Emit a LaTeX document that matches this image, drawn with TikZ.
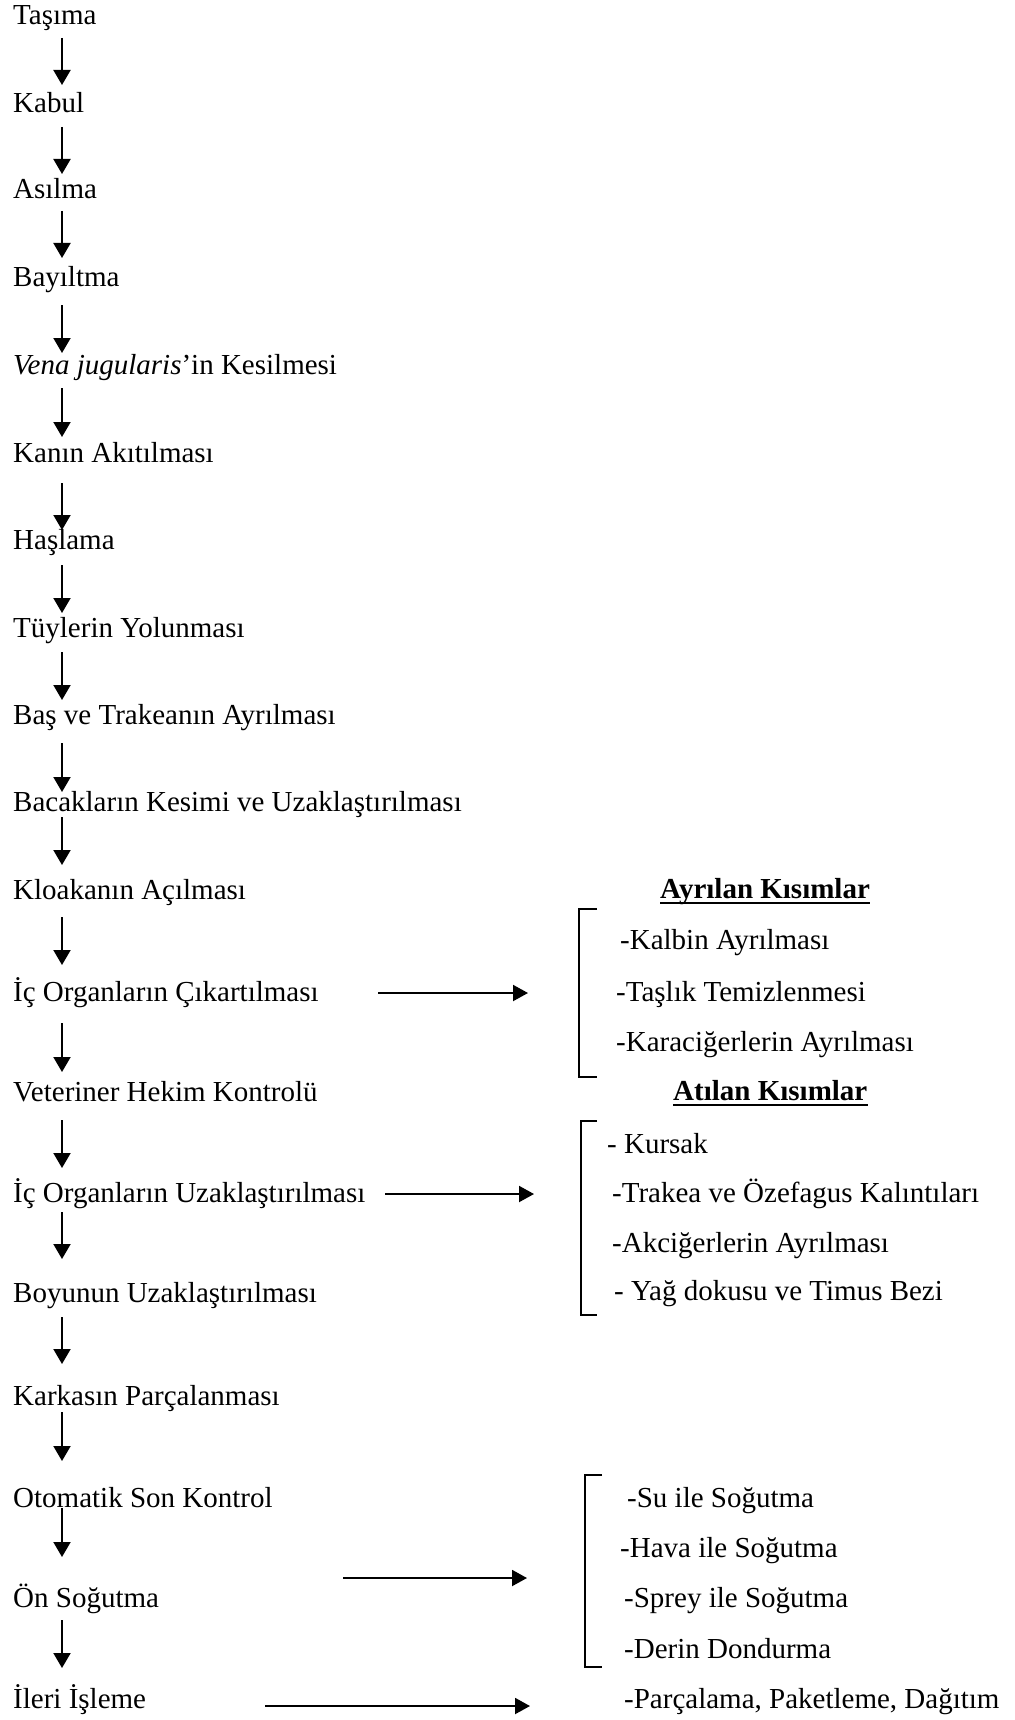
\documentclass[tikz,border=0pt]{standalone}
\usepackage{fontspec}
\setmainfont{Liberation Serif}
\usetikzlibrary{arrows.meta,calc}

\begin{document}
\begin{tikzpicture}[x=1pt, y=-1pt,
  font=\fontsize{29}{35}\selectfont,
  stage/.style={anchor=base west, inner sep=0pt},
  down/.style={line width=2pt, -{Triangle[width=17pt,length=15pt]}},
  side/.style={line width=2pt, -{Triangle[width=16pt,length=15pt]}},
  bracket/.style={line width=2.2pt}]
  \useasboundingbox (0, 0) rectangle (1014, 1720);
  \fill [white] (0, 0) rectangle (1014, 1720);

  % main line
  \node[stage] (tasima) at (13, 25) {Taşıma};
  \node[stage] (kabul) at (13, 113) {Kabul};
  \node[stage] (asilma) at (13, 199) {Asılma};
  \node[stage] (bayiltma) at (13, 287) {Bayıltma};
  \node[stage] (vena) at (13, 374) {\textit{Vena jugularis}’in Kesilmesi};
  \node[stage] (kan) at (13, 462) {Kanın Akıtılması};
  \node[stage] (haslama) at (13, 549) {Haşlama};
  \node[stage] (tuy) at (13, 637) {Tüylerin Yolunması};
  \node[stage] (bas) at (13, 724) {Baş ve Trakeanın Ayrılması};
  \node[stage] (bacak) at (13, 811) {Bacakların Kesimi ve Uzaklaştırılması};
  \node[stage] (kloaka) at (13, 899) {Kloakanın Açılması};
  \node[stage] (iccikar) at (13, 1001) {İç Organların Çıkartılması};
  \node[stage] (vet) at (13, 1101) {Veteriner Hekim Kontrolü};
  \node[stage] (icuzak) at (13, 1202) {İç Organların Uzaklaştırılması};
  \node[stage] (boyun) at (13, 1302) {Boyunun Uzaklaştırılması};
  \node[stage] (karkas) at (13, 1405) {Karkasın Parçalanması};
  \node[stage] (otomatik) at (13, 1507) {Otomatik Son Kontrol};
  \node[stage] (onsog) at (13, 1607) {Ön Soğutma};
  \node[stage] (ileri) at (13, 1708) {İleri İşleme};

  \draw[down] ($(tasima.base west)+(49,13)$) -- ($(kabul.base west)+(49,-28)$);
  \draw[down] ($(kabul.base west)+(49,14)$) -- ($(asilma.base west)+(49,-25)$);
  \draw[down] ($(asilma.base west)+(49,12)$) -- ($(bayiltma.base west)+(49,-29)$);
  \draw[down] ($(bayiltma.base west)+(49,18)$) -- ($(vena.base west)+(49,-21)$);
  \draw[down] ($(vena.base west)+(49,14)$) -- ($(kan.base west)+(49,-25)$);
  \draw[down] ($(kan.base west)+(49,21)$) -- ($(haslama.base west)+(49,-19)$);
  \draw[down] ($(haslama.base west)+(49,16)$) -- ($(tuy.base west)+(49,-24)$);
  \draw[down] ($(tuy.base west)+(49,15)$) -- ($(bas.base west)+(49,-24)$);
  \draw[down] ($(bas.base west)+(49,19)$) -- ($(bacak.base west)+(49,-19)$);
  \draw[down] ($(bacak.base west)+(49,6)$) -- ($(kloaka.base west)+(49,-34)$);
  \draw[down] ($(kloaka.base west)+(49,18)$) -- ($(iccikar.base west)+(49,-36)$);
  \draw[down] ($(iccikar.base west)+(49,22)$) -- ($(vet.base west)+(49,-29)$);
  \draw[down] ($(vet.base west)+(49,19)$) -- ($(icuzak.base west)+(49,-34)$);
  \draw[down] ($(icuzak.base west)+(49,10)$) -- ($(boyun.base west)+(49,-43)$);
  \draw[down] ($(boyun.base west)+(49,15)$) -- ($(karkas.base west)+(49,-41)$);
  \draw[down] ($(karkas.base west)+(49,7)$) -- ($(otomatik.base west)+(49,-46)$);
  \draw[down] ($(otomatik.base west)+(49,1)$) -- ($(onsog.base west)+(49,-50)$);
  \draw[down] ($(onsog.base west)+(49,13)$) -- ($(ileri.base west)+(49,-40)$);

  % separated parts
  \node[stage] (ayrilan) at (660, 898) {\bfseries Ayrılan Kısımlar};
  \draw [line width=2.5pt] ($(ayrilan.base west)+(0,5)$) -- ($(ayrilan.base east)+(0,5)$);
  \draw [bracket] (597, 909) -- (579, 909) -- (579, 1077) -- (597, 1077);
  \node[stage] (kalbin) at (620, 949) {-Kalbin Ayrılması};
  \node[stage] (taslik) at (616, 1001) {-Taşlık Temizlenmesi};
  \node[stage] (karaciger) at (616, 1051) {-Karaciğerlerin Ayrılması};
  \draw[side] ($(iccikar.base west)+(365,-8)$) -- ($(taslik.base west)+(-88,-8)$);

  % discarded parts
  \node[stage] (atilan) at (673, 1100) {\bfseries Atılan Kısımlar};
  \draw [line width=2.5pt] ($(atilan.base west)+(0,5)$) -- ($(atilan.base east)+(0,5)$);
  \draw [bracket] (597, 1121) -- (581, 1121) -- (581, 1315) -- (597, 1315);
  \node[stage] (kursak) at (607, 1153) {- Kursak};
  \node[stage] (trakea) at (612, 1202) {-Trakea ve Özefagus Kalıntıları};
  \node[stage] (akciger) at (612, 1252) {-Akciğerlerin Ayrılması};
  \node[stage] (yag) at (614, 1300) {- Yağ dokusu ve Timus Bezi};
  \draw[side] ($(icuzak.base west)+(372,-8)$) -- ($(trakea.base west)+(-78,-8)$);

  % cooling
  \draw [bracket] (602, 1475) -- (585, 1475) -- (585, 1667) -- (602, 1667);
  \node[stage] (su) at (627, 1507) {-Su ile Soğutma};
  \node[stage] (hava) at (620, 1557) {-Hava ile Soğutma};
  \node[stage] (sprey) at (624, 1607) {-Sprey ile Soğutma};
  \node[stage] (derin) at (624, 1658) {-Derin Dondurma};
  \draw[side] ($(onsog.base west)+(330,-29)$) -- ($(sprey.base west)+(-97,-29)$);

  \node[stage] (dagitim) at (624, 1708) {-Parçalama, Paketleme, Dağıtım};
  \draw[side] ($(ileri.base west)+(252,-2)$) -- ($(dagitim.base west)+(-94,-2)$);
\end{tikzpicture}
\end{document}
